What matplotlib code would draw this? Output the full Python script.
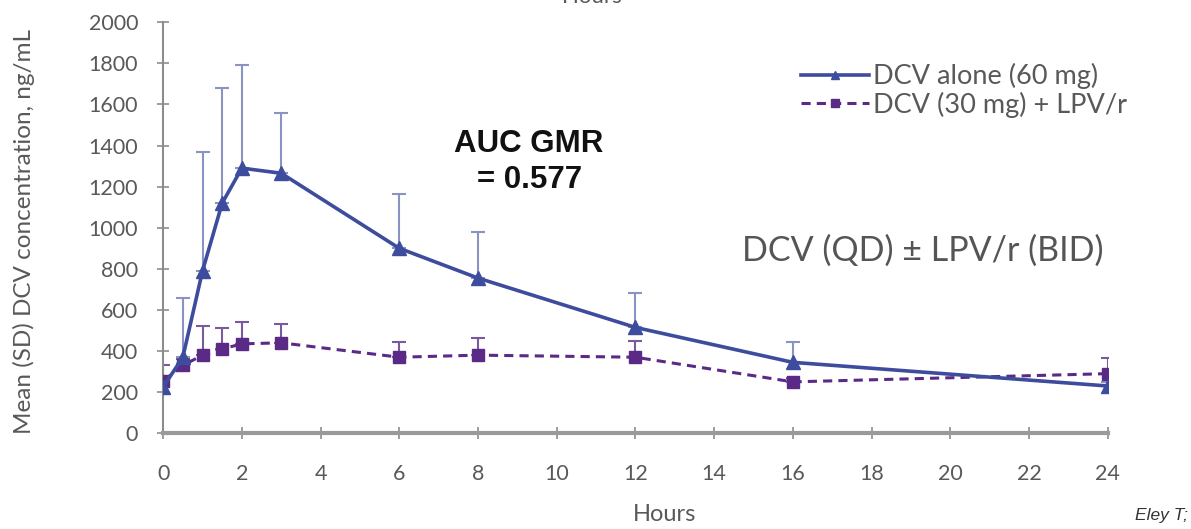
import matplotlib
matplotlib.use("Agg")
import matplotlib.pyplot as plt
import numpy as np

# sampling times (hours)
hours = [0, 0.5, 1, 1.5, 2, 3, 6, 8, 12, 16, 24]

# DCV alone (60 mg): mean and mean+SD
alone_mean = [225, 370, 790, 1120, 1290, 1265, 900, 755, 515, 345, 230]
alone_top = [260, 660, 1370, 1680, 1790, 1560, 1165, 980, 680, 445, 250]

# DCV (30 mg) + LPV/r
lpv_mean = [255, 330, 380, 410, 435, 440, 370, 380, 370, 250, 290]
lpv_top = [330, 360, 520, 510, 540, 530, 445, 465, 450, 270, 365]

xticks = list(range(0, 25, 2))
yticks = list(range(0, 2001, 200))

blue = "#3d4c9c"
blue_err = "#8a93c4"
purple = "#5a2a86"
grey = "#595959"
font = "Lato"

fig = plt.figure(figsize=(11.91, 5.29), dpi=100)
ax = fig.add_axes([0.137, 0.181, 0.793, 0.777])

a_mean = np.array(alone_mean)
a_err = np.array(alone_top) - a_mean
l_mean = np.array(lpv_mean)
l_err = np.array(lpv_top) - l_mean

ax.errorbar(hours, alone_mean, yerr=[np.zeros_like(a_err), a_err], fmt="none",
            ecolor=blue_err, elinewidth=1.5, capsize=5, capthick=1.5, zorder=2)
ax.errorbar(hours, lpv_mean, yerr=[np.zeros_like(l_err), l_err], fmt="none",
            ecolor="#7a5a9e", elinewidth=1.5, capsize=5, capthick=1.5, zorder=2)
ax.plot(hours, lpv_mean, color=purple, lw=2.2, ls=(0, (3, 2)), marker="s",
        ms=9, label="DCV (30 mg) + LPV/r", zorder=3)
ax.plot(hours, alone_mean, color=blue, lw=2.6, marker="^", ms=10,
        label="DCV alone (60 mg)", zorder=4)

ax.set_xlim(0, 24)
ax.set_ylim(0, 2000)
ax.set_xticks(xticks)
ax.set_yticks(yticks)
ax.tick_params(axis="both", colors="#8c8c8c", labelcolor=grey, labelsize=15.5,
               direction="inout", length=8, width=1.2)
ax.tick_params(axis="y", pad=14)
ax.tick_params(axis="x", pad=18)
for lab in ax.get_xticklabels() + ax.get_yticklabels():
    lab.set_family(font)
for s in ("top", "right"):
    ax.spines[s].set_visible(False)
ax.spines["left"].set_color("#8c8c8c")
ax.spines["left"].set_linewidth(1.5)
ax.spines["bottom"].set_color("#9a9a9a")
ax.spines["bottom"].set_linewidth(3)

ax.set_ylabel("Mean (SD) DCV concentration, ng/mL", family=font, fontsize=17.5,
              color=grey)
ax.yaxis.set_label_coords(-0.136, 0.49)

handles, labels = ax.get_legend_handles_labels()
leg = ax.legend(handles[::-1], labels[::-1], loc="upper left",
                bbox_to_anchor=(0.65, 0.96), frameon=False,
                prop={"family": font, "size": 19.5}, handlelength=2.5,
                handletextpad=0.15, labelspacing=0.1, markerscale=0.6)
for t in leg.get_texts():
    t.set_color(grey)

ax.text(9.3, 1320, "AUC GMR\n= 0.577", ha="center", va="center",
        family="Liberation Sans", weight="bold", fontsize=22.5, color="#111111",
        linespacing=1.3)
ax.text(19.3, 890, "DCV (QD) \u00b1 LPV/r (BID)", ha="center", va="center",
        family=font, fontsize=24.5, color="#555555")

fig.text(0.558, 0.008, "Hours", ha="center", va="bottom", family=font,
         fontsize=17, color=grey)
fig.text(0.497, 1.005, "Hours", ha="center", va="center", family=font,
         fontsize=16, color=grey)
fig.text(0.953, 0.012, "Eley T;", ha="left", va="bottom", family="Liberation Sans",
         style="italic", fontsize=12.5, color="#333333")

fig.savefig("out.png", dpi=100)
